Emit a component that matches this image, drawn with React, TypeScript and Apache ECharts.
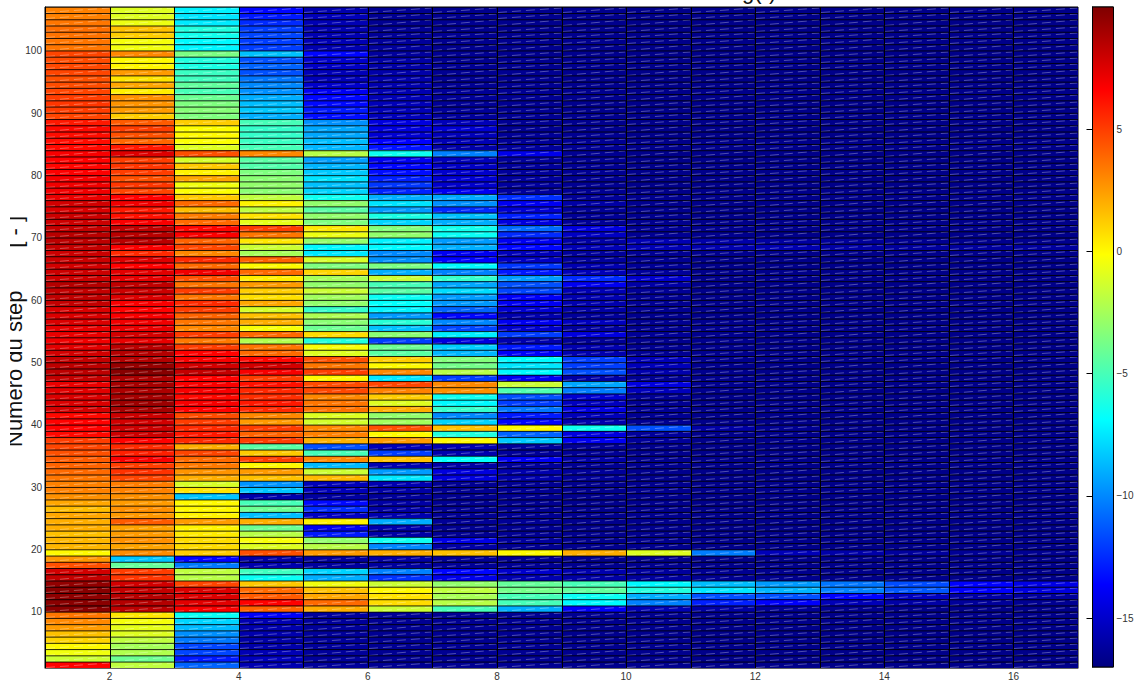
import React, { useEffect, useRef } from "react";
import * as echarts from "echarts";

// Every column lists its rows from the top of the picture (step 106) down to step 1.
const column1 = [3.2,3.2,3.5,3.7,3.6,3.5,3.5,4.8,4.6,4.7, 4.8,4.5,4.6,4.8,5,5.2,5,4.8,6,6.4, 6.3,6.3,6.4,6.8,6.6,6.5,6.7,6.9,7,7, 7.2,7.8,7.6,8,8,8.2,8.5,8.4,8.2,8, 8,7.8,8,8,8.6,8.2,8.3,8.2,7.6,7.6, 7.6,7.3,7.2,7,7.4,7.8,8.2,8.4,8.4,8.2, 7.2,7.4,7.6,7.6,7.8,6.4,6.6,6.6,6.4,5, 4.8,4.5,4.2,4,3.8,3.5,3.2,3.2,2.8,2.2, 1.6,2.2,2,2,1.5,1.8,1.8,0,2.6,4.5, 7.8,8.2,9.5,9.8,9.6,9.7,9.7,3.5,3,2.5, 1.5,1,0,-0.5,-1.5,6.6];
const column2 = [-1,-1,-0.6,1.5,1.2,-0.4,-0.5,3,0,0.1, 2.5,0.6,2.2,0.3,2.8,2.7,2.5,1.2,4.2,5, 4.5,3.9,6,7.5,5,5.2,5,4.5,5.2,4.8, 6.6,7,6,6.2,6.8,8.3,8.5,8.5,6.8,5.5, 7.5,6.6,7.4,7.3,8.3,8,7.6,6.8,6.6,6.8, 7,7.2,7.8,7.2,8.5,8.6,8.6,9.4,9.8,8.8, 9,8.8,9,9.2,9,8,7.8,8,8,6.6, 5.5,5.8,6.8,5,5.3,4.8,3.3,3.2,2.8,2.5, 2.8,2.6,4.2,2.3,2.5,2.8,2.3,2.9,-8.4,-4.2, 5,5.2,7.8,8.2,8.6,8.6,8.4,0.5,-0.4,-0.8, -1,-1.8,-2.5,-2.2,-4,-1.8];
const column3 = [-7.2,-7.5,-7.4,-6,-6.4,-7,-7.1,-3.6,-6,-6.2, -5.3,-5.2,-4.3,-5,-4,-3.5,-3.3,-3.5,1.2,-0.1, 0,-0.2,-1,4.5,-1.2,1.3,0.2,2.2,-0.5,-0.2, 1.3,3.8,1.6,3.3,3.8,6.5,6.7,4,4.7,3, 5.5,3.8,7,4.5,3.5,5,3.5,5.5,5,4, 3.5,3,5,3.4,5,6.6,6.8,7.8,8.2,6.6, 6.8,6.8,6.4,6.8,6.6,4.6,5,5.5,6,5.5, 2,4.8,3.8,3.4,2.7,2,-1.2,0.6,-8.4,0, 0,0.2,2.5,0.2,0.4,0.8,0.8,1.2,-13.6,-10.4, -1.8,-2,4.8,7.6,7.6,7.4,6.8,-6.6,-8,-8.7, -9.8,-10.4,-11.8,-11.8,-13,-11];
const column4 = [-13.5,-13,-12.5,-12,-11.8,-12,-12,-8.5,-11.5,-11, -11.5,-10.5,-10,-9.8,-9,-8.6,-8.3,-9,-5,-5.5, -5.5,-5.3,-5,3,-4.5,-4.7,-3.5,-3.2,-3,-3.2, -1.8,0.2,-1.8,0.6,-0.8,5,3.5,0.5,-1.5,-2.5, 4,0,3.8,0.3,2.5,1.2,0.7,2.2,-1.2,1.5, 2,-0.3,3.8,-2.2,3.5,3.8,6.5,7.8,6.8,5, 6.2,5.6,5.4,6,5.6,3,2.5,5,4,5, -4.5,1.3,5,0,2.5,1.5,-9.7,-8.4,-15.8,-5, -4,-8.6,2,-4,-2,-0.3,-1,4.5,-16,-15.8, -5.2,-6.6,1.3,3.8,4.2,6.6,4,-13.8,-15.7,-15.8, -15.8,-16,-15.9,-15.6,-15.4,-15.7];
const column5 = [-15.8,-15.5,-15.6,-15.7,-15.7,-15.6,-15.7,-13.5,-15,-15.2, -15.5,-15.5,-15,-14,-13.5,-13.4,-13,-13.3,-9.8,-9.2, -9.2,-8.6,-8.8,-2,-9.4,-8.8,-8.3,-7.6,-8.5,-8, -6.5,-3,-4.5,-3,-3.5,0.5,-0.6,-3,-7,-7.5, -1.2,-3.5,1,-2.5,-3,-1.5,-2.6,-3,-5.5,-2.3, -3.2,-4,0.8,-6,-0.3,-1,4.5,3.5,5,0, 4.6,4.7,3,3.5,3.6,-1,-1.3,3,3.2,1.9, -11.5,-5,3,-8.7,-1.5,1.7,-15.5,-15.5,-16.1,-13.4, -12.5,-15.2,0.2,-14,-13,-3,-2,2.5,-16.2,-16.2, -8,-9,-0.5,1.5,2.2,3.8,2,-16.2,-16.3,-16.3, -16.3,-16.3,-16.3,-16.3,-16.3,-16.3];
const column6 = [-16.5,-16.5,-16.5,-16.4,-16.4,-16.3,-16.2,-16.2,-16,-16, -15.9,-15.8,-15.8,-15.7,-15.6,-15.5,-15.5,-15.5,-14.5,-14.5, -14.8,-13.7,-13.2,-6.5,-14,-13.5,-13.3,-12.8,-12.2,-12.7, -9,-7.6,-9.5,-6.2,-8,-3.4,-3,-7.2,-7,-10, -9.8,-3.6,-9,-1.5,-5,-4.5,-6.6,-6.8,-7.2,-9.5, -5.8,-8.5,-3.2,-12,-4,-4.5,1.2,0,3,-7.5, 4.8,3.2,1.2,-1,2,-3,-2.6,4.5,0,2.5, -15.5,-12,1.5,-15.7,-9.5,-7.5,-15.7,-16,-16.3,-16, -16,-15.8,-9,-15.8,-16,-6.5,-10,2,-16,-16.2, -10.2,-12.3,-1.5,0,0.6,0.8,-1.5,-16.4,-16.5,-16.5, -16.5,-16.5,-16.5,-16.5,-16.5,-16.5];
const column7 = [-16.6,-16.6,-16.5,-16.6,-16.5,-16.6,-16.6,-16.5,-16.6,-16.5, -16.5,-16.5,-16.5,-16.4,-16.4,-16.4,-16.3,-16.3,-15.5,-14.8, -15.5,-15.6,-16,-10.2,-15.4,-15.2,-15,-14.8,-15,-14, -9.2,-9.8,-12.5,-8.5,-9,-6.4,-6.6,-9.5,-9,-14, -13.6,-7,-10.2,-5.5,-9.2,-7.8,-9.5,-9.6,-11,-13.5, -10,-11.8,-7.3,-14.5,-8.2,-8.8,-3.4,-3.8,-2,-12, 3,2.8,-6.5,-7,-5.5,-10,-8,1.5,-6,0, -15.7,-15.8,-6.8,-16,-14.5,-14.5,-16.5,-16.5,-16.5,-16.5, -16.5,-16.5,-16.4,-16.5,-16.5,-14.3,-16,1.5,-16.4,-16.4, -13.5,-14.2,-3,-1.8,-2.4,-2,-5,-16.5,-16.5,-16.5, -16.5,-16.5,-16.5,-16.5,-16.5,-16.5];
const column8 = [-16.6,-16.6,-16.6,-16.6,-16.6,-16.6,-16.6,-16.6,-16.6,-16.6, -16.5,-16.5,-16.5,-16.5,-16.5,-16.5,-16.5,-16.5,-16.5,-16.5, -16.4,-16.4,-16.3,-14.2,-16.3,-16.3,-16.3,-16.2,-16.2,-16.2, -12.4,-14,-14.8,-12.8,-14.5,-10.8,-12.5,-14,-13.5,-15.5, -15.2,-12.2,-13,-9.5,-11.5,-11.8,-13.8,-14,-14.8,-15.8, -14,-15,-12,-15.8,-13,-13.8,-7,-7.5,-7,-14, -1.5,-4.8,-11.5,-12,-10.5,-13,-13.5,0,-11,-8.3, -16.3,-16.3,-14,-16.3,-15.8,-15.8,-16.5,-16.5,-16.5,-16.5, -16.5,-16.5,-16.4,-16.5,-16.5,-16.2,-16.5,0,-16.5,-16.5, -15,-15.7,-4.2,-3.8,-5,-5,-9,-16.5,-16.5,-16.5, -16.5,-16.5,-16.5,-16.5,-16.5,-16.5];
const column9 = [-16.6,-16.6,-16.6,-16.6,-16.6,-16.6,-16.6,-16.6,-16.6,-16.6, -16.6,-16.6,-16.6,-16.6,-16.6,-16.6,-16.6,-16.6,-16.6,-16.6, -16.5,-16.5,-16.5,-16.5,-16.5,-16.5,-16.5,-16.5,-16.5,-16.5, -16.4,-16,-16.4,-16.4,-16.4,-14.5,-15.2,-16,-15.6,-16.3, -16.2,-15.7,-15.5,-12.5,-14,-15.6,-15.7,-15.8,-16,-16.3, -15.3,-16.2,-14.5,-16.4,-15.7,-15.8,-12,-12,-11.5,-16, -9.2,-10.3,-14.8,-15.3,-14.5,-15.5,-15.8,-6.5,-14.5,-14, -16.4,-16.4,-16,-16.5,-16.3,-16.3,-16.6,-16.6,-16.6,-16.6, -16.6,-16.6,-16.6,-16.6,-16.6,-16.6,-16.6,2,-16.6,-16.6, -15.8,-16,-5,-4.3,-6.6,-7,-13.8,-16.5,-16.6,-16.6, -16.6,-16.6,-16.6,-16.6,-16.6,-16.6];
const column10 = [-16.7,-16.7,-16.7,-16.7,-16.7,-16.7,-16.7,-16.7,-16.7,-16.7, -16.7,-16.7,-16.7,-16.7,-16.7,-16.7,-16.7,-16.7,-16.7,-16.7, -16.7,-16.7,-16.7,-16.7,-16.7,-16.7,-16.7,-16.7,-16.7,-16.7, -16.6,-16.6,-16.6,-16.6,-16.6,-16.5,-16.5,-15.6,-15.6,-16.5, -16.5,-16.4,-16.3,-15,-16,-16.4,-16.5,-16.5,-16.5,-16.6, -16.5,-16.6,-16.4,-16.6,-16.5,-16.5,-15.5,-15.5,-15.8,-16.5, -14.5,-15.4,-16.4,-16.5,-16.4,-16.5,-16.5,-11.5,-16.3,-16.3, -16.6,-16.6,-16.6,-16.6,-16.6,-16.6,-16.6,-16.6,-16.6,-16.6, -16.6,-16.6,-16.6,-16.6,-16.6,-16.6,-16.6,-1,-16.6,-16.6, -16.2,-16.2,-7,-6,-9,-10.2,-15.6,-16.6,-16.6,-16.6, -16.6,-16.6,-16.6,-16.6,-16.6,-16.6];
const column11 = [-16.7,-16.7,-16.7,-16.7,-16.7,-16.7,-16.7,-16.7,-16.7,-16.7, -16.7,-16.7,-16.7,-16.7,-16.7,-16.7,-16.7,-16.7,-16.7,-16.7, -16.7,-16.7,-16.7,-16.7,-16.7,-16.7,-16.7,-16.7,-16.7,-16.7, -16.7,-16.7,-16.7,-16.7,-16.7,-16.6,-16.6,-15.9,-15.8,-16.6, -16.7,-16.7,-16.7,-16.7,-16.7,-16.7,-16.7,-16.7,-16.7,-16.7, -16.6,-16.6,-16.6,-16.6,-16.6,-16.6,-16.6,-16.6,-16.6,-16.6, -16.6,-16.6,-16.7,-16.7,-16.7,-16.7,-16.7,-16,-16.7,-16.7, -16.7,-16.7,-16.7,-16.7,-16.7,-16.7,-16.7,-16.7,-16.7,-16.7, -16.7,-16.7,-16.7,-16.7,-16.7,-16.7,-16.7,-10.3,-16.7,-16.7, -16.5,-16.5,-8.6,-7.5,-11.5,-12.8,-16,-16.7,-16.7,-16.7, -16.7,-16.7,-16.7,-16.7,-16.7,-16.7];
const column12 = [-16.7,-16.7,-16.7,-16.7,-16.7,-16.7,-16.7,-16.7,-16.7,-16.7, -16.7,-16.7,-16.7,-16.7,-16.7,-16.7,-16.7,-16.7,-16.7,-16.7, -16.7,-16.7,-16.7,-16.7,-16.7,-16.7,-16.7,-16.7,-16.7,-16.7, -16.7,-16.7,-16.7,-16.7,-16.7,-16.7,-16.7,-16.1,-15.7,-16.7, -16.7,-16.7,-16.7,-16.7,-16.7,-16.7,-16.7,-16.7,-16.7,-16.7, -16.7,-16.7,-16.7,-16.7,-16.7,-16.7,-16.7,-16.7,-16.7,-16.7, -16.7,-16.7,-16.7,-16.7,-16.7,-16.7,-16.7,-16.5,-16.7,-16.7, -16.7,-16.7,-16.7,-16.7,-16.7,-16.7,-16.7,-16.7,-16.7,-16.7, -16.7,-16.7,-16.7,-16.7,-16.7,-16.7,-16.7,-15.5,-16.7,-16.7, -16.6,-16.6,-9.5,-8.8,-11.5,-13.7,-16.4,-16.7,-16.7,-16.7, -16.7,-16.7,-16.7,-16.7,-16.7,-16.7];
const column13 = [-16.7,-16.7,-16.7,-16.7,-16.7,-16.7,-16.7,-16.7,-16.7,-16.7, -16.7,-16.7,-16.7,-16.7,-16.7,-16.7,-16.7,-16.7,-16.7,-16.7, -16.7,-16.7,-16.7,-16.7,-16.7,-16.7,-16.7,-16.7,-16.7,-16.7, -16.7,-16.7,-16.7,-16.7,-16.7,-16.7,-16.7,-16.3,-16,-16.7, -16.7,-16.7,-16.7,-16.7,-16.7,-16.7,-16.7,-16.7,-16.7,-16.7, -16.7,-16.7,-16.7,-16.7,-16.7,-16.7,-16.7,-16.7,-16.7,-16.7, -16.7,-16.7,-16.7,-16.7,-16.7,-16.7,-16.7,-16.7,-16.7,-16.7, -16.7,-16.7,-16.7,-16.7,-16.7,-16.7,-16.7,-16.7,-16.7,-16.7, -16.7,-16.7,-16.7,-16.7,-16.7,-16.7,-16.7,-15.9,-16.7,-16.7, -16.7,-16.7,-10.5,-10.2,-13.6,-15.5,-16.6,-16.7,-16.7,-16.7, -16.7,-16.7,-16.7,-16.7,-16.7,-16.7];
const column14 = [-16.7,-16.7,-16.7,-16.7,-16.7,-16.7,-16.7,-16.7,-16.7,-16.7, -16.7,-16.7,-16.7,-16.7,-16.7,-16.7,-16.7,-16.7,-16.7,-16.7, -16.7,-16.7,-16.7,-16.7,-16.7,-16.7,-16.7,-16.7,-16.7,-16.7, -16.7,-16.7,-16.7,-16.7,-16.7,-16.7,-16.7,-16.5,-16.2,-16.7, -16.7,-16.7,-16.7,-16.7,-16.7,-16.7,-16.7,-16.7,-16.7,-16.7, -16.7,-16.7,-16.7,-16.7,-16.7,-16.7,-16.7,-16.7,-16.7,-16.7, -16.7,-16.7,-16.7,-16.7,-16.7,-16.7,-16.7,-16.7,-16.7,-16.7, -16.7,-16.7,-16.7,-16.7,-16.7,-16.7,-16.7,-16.7,-16.7,-16.7, -16.7,-16.7,-16.7,-16.7,-16.7,-16.7,-16.7,-16.2,-16.7,-16.7, -16.7,-16.7,-11.6,-11.3,-15.3,-16,-16.7,-16.7,-16.7,-16.7, -16.7,-16.7,-16.7,-16.7,-16.7,-16.7];
const column15 = [-16.7,-16.7,-16.7,-16.7,-16.7,-16.7,-16.7,-16.7,-16.7,-16.7, -16.7,-16.7,-16.7,-16.7,-16.7,-16.7,-16.7,-16.7,-16.7,-16.7, -16.7,-16.7,-16.7,-16.7,-16.7,-16.7,-16.7,-16.7,-16.7,-16.7, -16.7,-16.7,-16.7,-16.7,-16.7,-16.7,-16.7,-16.6,-16.2,-16.7, -16.7,-16.7,-16.7,-16.7,-16.7,-16.7,-16.7,-16.7,-16.7,-16.7, -16.7,-16.7,-16.7,-16.7,-16.7,-16.7,-16.7,-16.7,-16.7,-16.7, -16.7,-16.7,-16.7,-16.7,-16.7,-16.7,-16.7,-16.7,-16.7,-16.7, -16.7,-16.7,-16.7,-16.7,-16.7,-16.7,-16.7,-16.7,-16.7,-16.7, -16.7,-16.7,-16.7,-16.7,-16.7,-16.7,-16.7,-16.4,-16.7,-16.7, -16.7,-16.7,-13.6,-13.7,-16,-16.3,-16.7,-16.7,-16.7,-16.7, -16.7,-16.7,-16.7,-16.7,-16.7,-16.7];
const column16 = [-16.7,-16.7,-16.7,-16.7,-16.7,-16.7,-16.7,-16.7,-16.7,-16.7, -16.7,-16.7,-16.7,-16.7,-16.7,-16.7,-16.7,-16.7,-16.7,-16.7, -16.7,-16.7,-16.7,-16.7,-16.7,-16.7,-16.7,-16.7,-16.7,-16.7, -16.7,-16.7,-16.7,-16.7,-16.7,-16.7,-16.7,-16.6,-16.2,-16.7, -16.7,-16.7,-16.7,-16.7,-16.7,-16.7,-16.7,-16.7,-16.7,-16.7, -16.7,-16.7,-16.7,-16.7,-16.7,-16.7,-16.7,-16.7,-16.7,-16.7, -16.7,-16.7,-16.7,-16.7,-16.7,-16.7,-16.7,-16.7,-16.7,-16.7, -16.7,-16.7,-16.7,-16.7,-16.7,-16.7,-16.7,-16.7,-16.7,-16.7, -16.7,-16.7,-16.7,-16.7,-16.7,-16.7,-16.7,-16.5,-16.7,-16.7, -16.7,-16.7,-14.3,-14.5,-16.2,-16.5,-16.7,-16.7,-16.7,-16.7, -16.7,-16.7,-16.7,-16.7,-16.7,-16.7];

const columns = [column1, column2, column3, column4, column5, column6, column7, column8, column9, column10, column11, column12, column13, column14, column15, column16];
const lastStep = 106;
const xTicks = [2, 4, 6, 8, 10, 12, 14, 16];
const yTicks = [10, 20, 30, 40, 50, 60, 70, 80, 90, 100];
const colorTicks = [-15, -10, -5, 0, 5];
const colorMin = -17;
const colorMax = 10;
const jet = ["#00007f", "#0000ff", "#007fff", "#00ffff", "#7fff7f", "#ffff00", "#ff7f00", "#ff0000", "#7f0000"];
const yTitle = "Numéro du step       [ - ]";
const cutTitle = "g(-)";

const FONT = '"Liberation Sans", Arial, sans-serif';
const cells: number[][] = [];
columns.forEach((col, c) => {
  col.forEach((v, i) => cells.push([c + 1, lastStep - i, v]));
});

export default function App() {
  const ref = useRef<HTMLDivElement>(null);
  useEffect(() => {
    document.body.style.margin = "0";
    document.body.style.background = "#fff";
    const chart = echarts.init(ref.current!, null, { renderer: "svg" });
    const labelStyle = { color: "#333", fontSize: 10, fontFamily: FONT };
    chart.setOption({
      animation: false,
      backgroundColor: "#fff",
      tooltip: { show: false },
      grid: [
        { left: 45, top: 7, width: 1033, height: 661, show: true, borderColor: "#000", borderWidth: 1, backgroundColor: "#00007f" },
        { left: 1092.5, top: 7, width: 21, height: 660, show: true, borderColor: "#000", borderWidth: 1 },
      ],
      xAxis: [
        {
          type: "value", gridIndex: 0, min: 1, max: 17, splitLine: { show: false },
          axisLine: { show: true, lineStyle: { color: "#666" } },
          axisTick: { show: false },
          axisLabel: { ...labelStyle, margin: 3, customValues: xTicks },
        },
        { type: "value", gridIndex: 1, min: 0, max: 1, show: false },
      ],
      yAxis: [
        {
          type: "value", gridIndex: 0, min: 1, max: 107, splitLine: { show: false },
          axisLine: { show: true, lineStyle: { color: "#000" } },
          axisTick: { show: false },
          axisLabel: { ...labelStyle, margin: 3, customValues: yTicks },
        },
        {
          type: "value", gridIndex: 1, position: "right", min: colorMin, max: colorMax, splitLine: { show: false },
          axisLine: { show: true, lineStyle: { color: "#000" } },
          axisTick: { show: true, inside: true, length: 6, lineStyle: { color: "#000" }, customValues: colorTicks },
          axisLabel: {
            ...labelStyle, margin: 3, customValues: colorTicks,
            formatter: (v: number) => String(v).replace("-", "\u2212"),
          },
        },
        {
          type: "value", gridIndex: 1, position: "left", min: colorMin, max: colorMax, splitLine: { show: false },
          axisLine: { show: true, lineStyle: { color: "#000" } },
          axisTick: { show: true, inside: true, length: 6, lineStyle: { color: "#000" }, customValues: colorTicks },
          axisLabel: { show: false },
        },
      ],
      visualMap: {
        show: false, type: "continuous", seriesIndex: 0, dimension: 2,
        min: colorMin, max: colorMax, inRange: { color: jet },
      },
      series: [
        {
          type: "custom", xAxisIndex: 0, yAxisIndex: 0, clip: true, silent: true, progressive: 0,
          encode: { x: 0, y: 1 },
          data: cells,
          renderItem: (params: any, api: any) => {
            const a = api.coord([api.value(0), api.value(1)]);
            const b = api.coord([api.value(0) + 1, api.value(1) + 1]);
            const left = Math.round(a[0]);
            const right = Math.round(b[0]);
            const top = Math.round(b[1]);
            const bottom = Math.round(a[1]);
            return {
              type: "group",
              children: [
                {
                  type: "rect",
                  shape: { x: left, y: top, width: right - left, height: bottom - top },
                  style: { fill: api.visual("color") },
                },
                {
                  type: "line",
                  shape: { x1: left + 1, y1: bottom - 0.5, x2: right - 1, y2: top + 1 },
                  style: { stroke: "rgba(255,255,255,0.3)", lineWidth: 1, lineDash: [9, 5] },
                },
                {
                  type: "line",
                  shape: { x1: left, y1: b[1] + 0.3, x2: right, y2: b[1] + 0.3 },
                  style: { stroke: "rgba(0,0,0,0.85)", lineWidth: 1 },
                },
                {
                  type: "line",
                  shape: { x1: left + 0.5, y1: top, x2: left + 0.5, y2: bottom },
                  style: { stroke: "#000", lineWidth: 1 },
                },
              ],
            };
          },
        },
        {
          type: "custom", xAxisIndex: 1, yAxisIndex: 1, silent: true,
          encode: { x: 0, y: 1 },
          data: [[0, colorMin]],
          renderItem: (params: any, api: any) => {
            const a = api.coord([0, colorMin]);
            const b = api.coord([1, colorMax]);
            return {
              type: "rect",
              shape: { x: a[0], y: b[1], width: b[0] - a[0], height: a[1] - b[1] },
              style: {
                fill: new echarts.graphic.LinearGradient(0, 1, 0, 0, jet.map((color, i) => ({ offset: i / (jet.length - 1), color }))),
                stroke: "#000", lineWidth: 1,
              },
            };
          },
        },
      ],
      graphic: [
        {
          type: "text", x: 25, y: 447, rotation: Math.PI / 2, z: 100,
          style: { text: yTitle, fill: "#111", font: `22px ${FONT}`, textAlign: "left", textVerticalAlign: "bottom" },
        },
        { type: "rect", z: 101, shape: { x: 0, y: 190, width: 10, height: 270 }, style: { fill: "#fff" } },
        {
          type: "text", x: 742, y: 2, z: 100,
          style: { text: cutTitle, fill: "#111", font: `22px ${FONT}`, textAlign: "left", textVerticalAlign: "bottom" },
        },
      ],
    });
    return () => chart.dispose();
  }, []);
  return <div ref={ref} style={{ position: "absolute", left: 0, top: 0, width: 1140, height: 687 }} />;
}
